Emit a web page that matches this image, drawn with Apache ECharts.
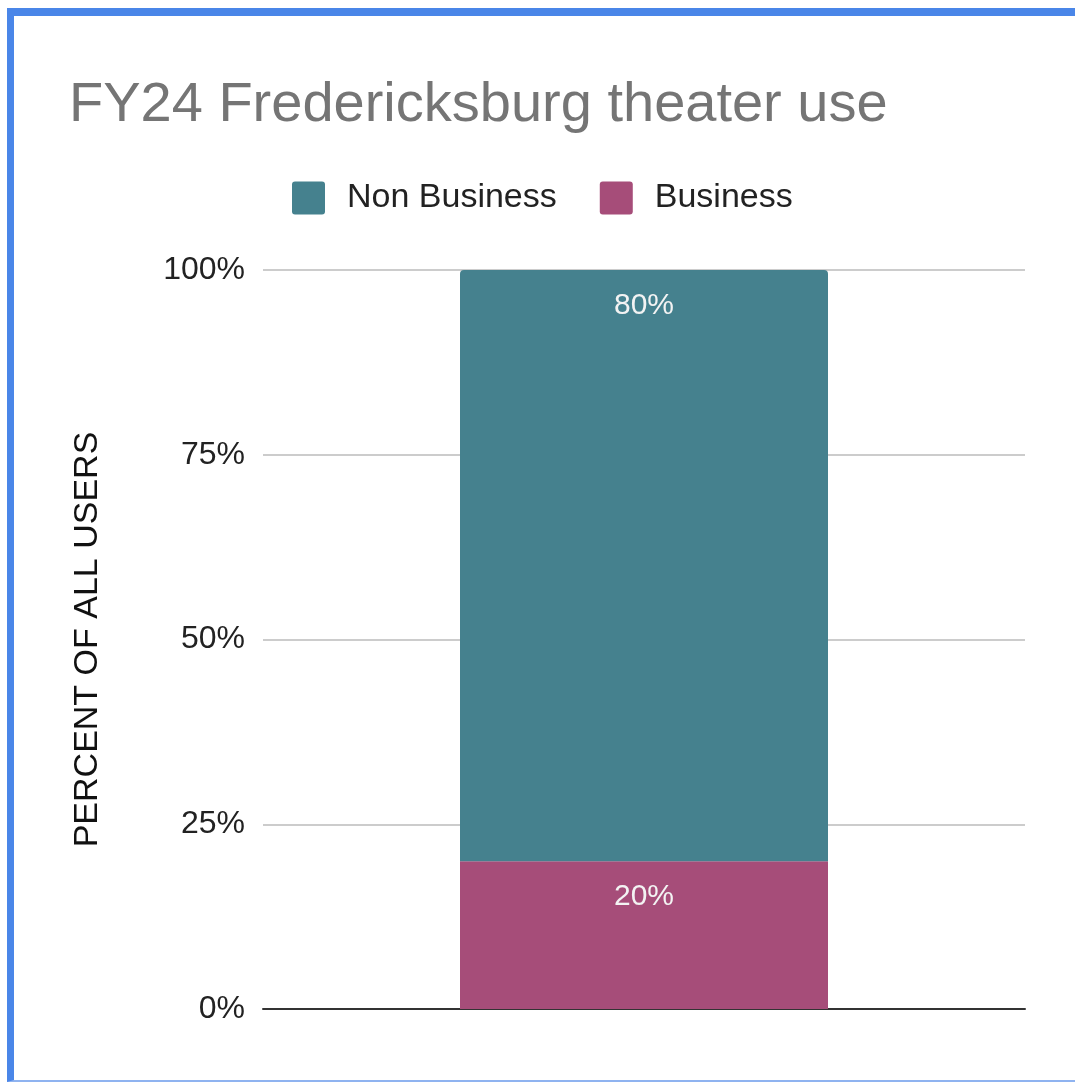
<!DOCTYPE html>
<html>
<head>
<meta charset="utf-8">
<script src="https://cdn.jsdelivr.net/npm/echarts@6/dist/echarts.min.js"></script>
<style>
  html, body { margin: 0; padding: 0; background: #fff; }
  #frame {
    position: absolute; left: 7px; top: 8px; width: 1075px; height: 1074px;
    border-left: 7px solid #4a86e8; border-top: 8px solid #4a86e8;
    border-bottom: 2px solid #8fb3f0;
    box-sizing: border-box;
  }
  #main { position: absolute; left: 0; top: 0; width: 1075px; height: 1084px; }
</style>
</head>
<body>
<div id="frame"></div>
<div id="main"></div>
<script>
const categories = ['FY24'];
const nonBusiness = [80];
const business = [20];
const yTicks = [0, 25, 50, 75, 100];

const chart = echarts.init(document.getElementById('main'), null, { renderer: 'canvas' });

const labelStyle = {
  show: true,
  position: 'insideTop',
  distance: 21,
  color: '#f3f3f3',
  fontSize: 30,
  fontFamily: 'Liberation Sans, Arial, sans-serif',
  formatter: p => p.value + '%'
};

const option = {
  backgroundColor: 'transparent',
  title: {
    text: 'FY24 Fredericksburg theater use',
    left: 64,
    top: 73,
    textStyle: {
      color: '#757575',
      fontSize: 56,
      fontWeight: 'normal',
      fontFamily: 'Liberation Sans, Arial, sans-serif'
    }
  },
  legend: {
    data: ['Non Business', 'Business'],
    top: 176,
    left: 287,
    itemWidth: 33,
    itemHeight: 33,
    itemGap: 43,
    icon: 'path://M3,0 L30,0 Q33,0 33,3 L33,30 Q33,33 30,33 L3,33 Q0,33 0,30 L0,3 Q0,0 3,0 Z',
    textStyle: {
      color: '#222',
      fontSize: 34,
      fontFamily: 'Liberation Sans, Arial, sans-serif',
      padding: [0, 0, 0, 17]
    }
  },
  grid: { left: 263, right: 50, top: 270, bottom: 75, containLabel: false },
  xAxis: {
    type: 'category',
    data: categories,
    axisLine: { show: true, lineStyle: { color: '#333', width: 2 } },
    axisTick: { show: false },
    axisLabel: { show: false }
  },
  yAxis: {
    type: 'value',
    min: yTicks[0],
    max: yTicks[yTicks.length - 1],
    interval: 25,
    name: 'PERCENT OF ALL USERS',
    nameLocation: 'middle',
    nameGap: 158,
    nameTextStyle: {
      color: '#111',
      fontSize: 34,
      fontFamily: 'Liberation Sans, Arial, sans-serif'
    },
    axisLine: { show: false },
    axisTick: { show: false },
    axisLabel: {
      color: '#222',
      fontSize: 32,
      margin: 18,
      fontFamily: 'Liberation Sans, Arial, sans-serif',
      formatter: v => v + '%'
    },
    splitLine: { lineStyle: { color: '#cccccc', width: 2 } }
  },
  series: [
    {
      name: 'Business',
      type: 'bar',
      stack: 'total',
      data: business,
      barWidth: 368,
      itemStyle: { color: '#a64d79' },
      label: labelStyle
    },
    {
      name: 'Non Business',
      type: 'bar',
      stack: 'total',
      data: nonBusiness,
      barWidth: 368,
      itemStyle: { color: '#45818e', borderRadius: [4, 4, 0, 0] },
      label: labelStyle
    }
  ]
};

chart.setOption(option);
</script>
</body>
</html>
